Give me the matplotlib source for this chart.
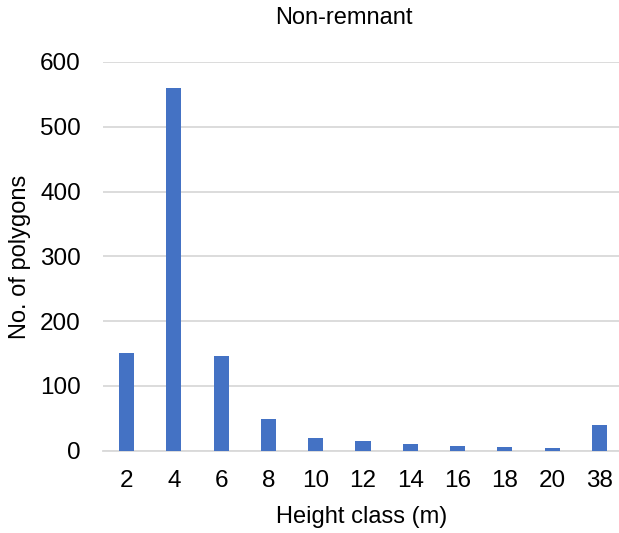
import matplotlib.pyplot as plt

# Height classes and polygon counts
height_classes = ['2', '4', '6', '8', '10', '12', '14', '16', '18', '20', '38']
polygon_counts = [151, 560, 146, 49, 20, 15, 11, 7, 6, 4, 40]
y_ticks = [0, 100, 200, 300, 400, 500, 600]

plt.rcParams['font.family'] = ['Liberation Sans', 'DejaVu Sans']

W, H = 619, 533
fig = plt.figure(figsize=(W / 100, H / 100), dpi=100)

# Plot area in pixels: left 103, right 623 (slightly past the edge), baseline 450.7, top 62
left, right, bottom, top = 103, 623, 450.7, 62
ax = fig.add_axes([left / W, (H - bottom) / H, (right - left) / W, (bottom - top) / H])

x = range(len(height_classes))
ax.bar(x, polygon_counts, width=0.32, color='#4472C4', zorder=3)

ax.set_xlim(-0.5, len(height_classes) - 0.5)
ax.set_ylim(0, 600)
ax.set_yticks(y_ticks)
ax.set_xticks(list(x))
ax.set_xticklabels(height_classes)

# Gridlines, light gray
ax.grid(axis='y', color='#d9d9d9', linewidth=1.3, zorder=0)
for side in ['top', 'right', 'left']:
    ax.spines[side].set_visible(False)
ax.spines['bottom'].set_color('#d9d9d9')
ax.spines['bottom'].set_linewidth(1.3)
ax.tick_params(axis='both', length=0, labelsize=17.5, colors='black')
ax.tick_params(axis='x', pad=14)
ax.tick_params(axis='y', pad=16)

# Titles and labels
fig.text(344 / W, 1 - 18 / H, 'Non-remnant', ha='center', va='center', fontsize=17)
fig.text(362 / W, 1 - 517 / H, 'Height class (m)', ha='center', va='center', fontsize=17)
fig.text(20 / W, 1 - 257 / H, 'No. of polygons', ha='center', va='center',
         rotation=90, fontsize=17)

fig.savefig('out.png', dpi=100)
